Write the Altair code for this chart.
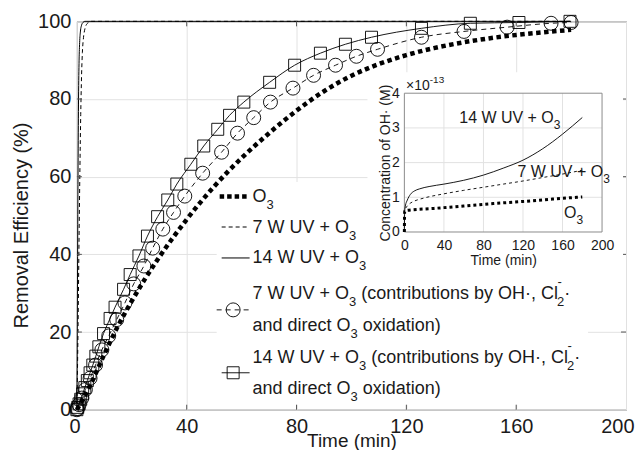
import altair as alt
import pandas as pd

# ---------------- values ----------------
# main panel: time (min) vs removal efficiency (%)
o3_t = [0, 5, 10, 15, 20, 25, 30, 35, 40, 45, 50, 55, 60, 65, 70, 75, 80, 90, 100, 110, 120, 130, 140, 150, 160, 170, 180]
o3_e = [0, 6.5, 14.3, 21.6, 28.0, 33.9, 39.3, 44.3, 49.0, 53.4, 57.5, 61.3, 64.8, 68.1, 71.2, 74.2, 77.0, 82.0, 86.0, 89.0, 91.3, 93.1, 94.5, 95.6, 96.5, 97.2, 97.8]

uv7_t = [0, 0.4, 0.8, 1.1, 1.4, 1.7, 2.0, 2.4, 2.9, 3.5, 4.3, 5.2, 180]
uv7_e = [0, 20, 45, 62, 76, 86, 92, 95.8, 98, 99.2, 99.7, 100, 100]

uv14_t = [0, 0.15, 0.3, 0.45, 0.6, 0.8, 1.0, 1.3, 1.7, 2.2, 2.9, 180]
uv14_e = [0, 22, 45, 65, 80, 90, 94.5, 97.5, 99, 99.7, 100, 100]

c7_t = [0, 0.2, 0.8, 1.8, 3.1, 4.8, 6.8, 9.1, 11.6, 14.5, 17.5, 20.7, 24.4, 27.6, 31.3, 35.2, 39.3, 45.8,
        52.7, 58.5, 64.4, 70.5, 78.7, 86.2, 94.2, 101.8, 109.5, 125.5, 141.0, 156.7, 172.7, 180.0]
c7_e = [0, 0.3, 1.3, 3.0, 5.2, 8.1, 11.5, 15.4, 19.0, 23.2, 27.5, 32.4, 37.0, 41.6, 46.5, 50.8, 55.0, 60.9,
        66.3, 71.2, 75.2, 79.2, 82.8, 86.1, 88.7, 91.0, 92.8, 95.9, 97.4, 98.5, 99.5, 99.7]

s14_t = [0, 0.3, 0.8, 1.4, 2.1, 2.9, 3.8, 4.8, 5.8, 6.9, 8.0, 9.7, 12.1, 13.9, 17.0, 19.4, 22.6, 25.7, 29.4,
         33.1, 36.4, 41.5, 46.2, 51.3, 55.6, 60.8, 70.2, 79.3, 88.7, 97.8, 107.3, 125.5, 143.3, 161.0, 179.6]
s14_e = [0, 0.6, 1.5, 2.7, 4.1, 5.7, 7.5, 9.5, 11.5, 13.8, 16.2, 19.6, 23.5, 26.4, 31.0, 34.8, 39.6, 44.7, 49.7,
         54.0, 58.1, 63.2, 67.9, 72.2, 75.8, 79.2, 84.3, 88.7, 91.8, 94.1, 95.9, 98.2, 99.5, 99.7, 100.0]

# inset: time (min) vs OH concentration (x 1e-13 M)
oh_o3_t = [0, 0.3, 2, 30, 60, 90, 120, 150, 180]
oh_o3_c = [0, 0.6, 0.62, 0.68, 0.75, 0.82, 0.88, 0.95, 1.01]
oh7_t = [0, 0.3, 1, 3, 6, 10, 20, 40, 60, 80, 100, 120, 140, 160, 180]
oh7_c = [0, 0.58, 0.66, 0.75, 0.83, 0.89, 0.98, 1.1, 1.2, 1.29, 1.38, 1.47, 1.57, 1.67, 1.78]
oh14_t = [0, 0.3, 1, 3, 6, 10, 15, 25, 40, 60, 80, 100, 120, 140, 160, 180]
oh14_c = [0, 0.58, 0.75, 0.92, 1.08, 1.18, 1.24, 1.31, 1.38, 1.49, 1.64, 1.84, 2.07, 2.4, 2.82, 3.3]

x_ticks = [0, 40, 80, 120, 160, 200]
y_ticks = [0, 20, 40, 60, 80, 100]
ix_ticks = [0, 40, 80, 120, 160, 200]
iy_ticks = [0, 1, 2, 3, 4]

# ---------------- layout / style ----------------
FONT = "Liberation Sans"
TXT = "#1a1a1a"
GRID = "#e2e2e2"
FRAME = "#555555"
IFRAME = "#8c8c8c"
X0, Y0 = 77, 21          # page position of the plot area
W, H = 550, 389


def rx(x):
    return x - X0


def ry(y):
    return y - Y0


one = pd.DataFrame({"k": [0]})

# Arial / Liberation Sans advance widths (1/1000 em)
AW = {' ': 278, '(': 333, ')': 333, '+': 584, ',': 278, '-': 333, '·': 278, '×': 584,
      'C': 722, 'H': 722, 'O': 778, 'U': 722, 'V': 667, 'W': 944,
      'a': 556, 'b': 556, 'c': 500, 'd': 556, 'e': 556, 'i': 222, 'l': 222, 'n': 556,
      'o': 556, 'r': 333, 's': 500, 't': 278, 'u': 556, 'x': 500, 'y': 500}
for d in "0123456789":
    AW[d] = 556


def tw(s, size):
    return sum(AW.get(c, 556) for c in s) * size / 1000.0


def text_mark(t, x, y, size):
    return alt.Chart(one).mark_text(align="left", baseline="alphabetic", font=FONT,
                                    fontSize=size, color=TXT).encode(
        x=alt.value(rx(x)), y=alt.value(ry(y)), text=alt.value(t))


def rich(segs, x, y, size, sub_size, sub_dy, sup_dy):
    out = []
    for kind, txt in segs:
        if kind == "n":
            stripped = txt.lstrip(" ")
            x += (len(txt) - len(stripped)) * AW[' '] * size / 1000.0
            out.append(text_mark(stripped, x, y, size))
            x += tw(stripped, size)
        elif kind == "sub":
            out.append(text_mark(txt, x, y + sub_dy, sub_size))
            x += tw(txt, sub_size)
        else:  # stacked sub / sup
            sub, sup = txt
            out.append(text_mark(sub, x, y + sub_dy, sub_size))
            out.append(text_mark(sup, x + 0.5, y + sup_dy, sub_size))
            x += max(tw(sub, sub_size), tw(sup, sub_size))
    return out


# ---------------- main panel ----------------
mx_scale = alt.Scale(domain=[0, 200], nice=False, zero=False)
my_scale = alt.Scale(domain=[0, 100], nice=False, zero=False)
mx_axis = alt.Axis(values=x_ticks, title="Time (min)", grid=True, gridColor=GRID, ticks=False, tickSize=0,
                   domain=False, labelFont=FONT, labelFontSize=20, labelColor=TXT, labelPadding=23,
                   labelBaseline="alphabetic", labelFlush=True, labelFlushOffset=8, labelOverlap=False,
                   titleFont=FONT, titleFontSize=19, titleFontWeight="normal", titleColor=TXT,
                   titleX=W / 2, titleY=37, titleAlign="center", titleBaseline="alphabetic")
my_axis = alt.Axis(values=y_ticks, title="Removal Efficiency (%)", grid=True, gridColor=GRID, ticks=False,
                   tickSize=0, domain=False, labelFont=FONT, labelFontSize=20, labelColor=TXT, labelPadding=6,
                   labelBaseline="middle", labelFlush=False, labelOverlap=False,
                   titleFont=FONT, titleFontSize=20, titleFontWeight="normal", titleColor=TXT,
                   titleX=-49.5, titleY=204, titleAngle=270, titleAlign="center", titleBaseline="alphabetic")


def MX(f):
    return alt.X(f, type="quantitative", scale=mx_scale, axis=mx_axis)


def MY(f):
    return alt.Y(f, type="quantitative", scale=my_scale, axis=my_axis)


def series(t, v):
    return pd.DataFrame({"t": t, "v": v})


def mline(df, width, dash=None):
    kw = dict(color="black", strokeWidth=width, interpolate="monotone", strokeCap="butt")
    if dash is not None:
        kw["strokeDash"] = dash
    return alt.Chart(df).mark_line(**kw).encode(x=MX("t"), y=MY("v"))


main_layers = []
# legend background (white box without border)
main_layers.append(alt.Chart(one).mark_rect(fill="white", stroke=None).encode(
    x=alt.value(rx(217)), x2=alt.value(rx(589)), y=alt.value(ry(182)), y2=alt.value(ry(405))))

main_layers.append(mline(series(o3_t, o3_e), 4.5, [4.5, 3.5]))
main_layers.append(mline(series(uv7_t, uv7_e), 1, [4, 3]))
main_layers.append(mline(series(uv14_t, uv14_e), 1))
main_layers.append(mline(series(c7_t, c7_e), 0.9, [5, 4]))
main_layers.append(alt.Chart(series(c7_t, c7_e)).mark_point(
    shape="circle", filled=False, size=196, color="black", strokeWidth=0.9, opacity=1).encode(x=MX("t"), y=MY("v")))
main_layers.append(mline(series(s14_t, s14_e), 0.9))
main_layers.append(alt.Chart(series(s14_t, s14_e)).mark_point(
    shape="square", filled=False, size=144, color="black", strokeWidth=0.9, opacity=1).encode(x=MX("t"), y=MY("v")))

# inward ticks on all four sides
tx = pd.DataFrame({"t": x_ticks[1:-1]})
ty = pd.DataFrame({"v": y_ticks[1:-1]})
main_layers.append(alt.Chart(tx).mark_rule(color=FRAME, strokeWidth=1).encode(
    x=MX("t"), y=alt.value(H), y2=alt.value(H - 5)))
main_layers.append(alt.Chart(tx).mark_rule(color=FRAME, strokeWidth=1).encode(
    x=MX("t"), y=alt.value(0), y2=alt.value(5)))
main_layers.append(alt.Chart(ty).mark_rule(color=FRAME, strokeWidth=1).encode(
    y=MY("v"), x=alt.value(0), x2=alt.value(5)))
main_layers.append(alt.Chart(ty).mark_rule(color=FRAME, strokeWidth=1).encode(
    y=MY("v"), x=alt.value(W), x2=alt.value(W - 5)))


# legend samples
def lrule(x1, x2, y, width, dash=None):
    kw = dict(color="black", strokeWidth=width, strokeCap="butt")
    if dash is not None:
        kw["strokeDash"] = dash
    return alt.Chart(one).mark_rule(**kw).encode(
        x=alt.value(rx(x1)), x2=alt.value(rx(x2)), y=alt.value(ry(y)))


main_layers.append(lrule(220, 250, 196.5, 4.5, [4.5, 3]))
main_layers.append(lrule(222, 250, 227, 1, [4, 3]))
main_layers.append(lrule(222, 250, 258, 1))
main_layers.append(lrule(217, 250, 310, 0.9, [5, 4]))
main_layers.append(alt.Chart(one).mark_point(shape="circle", filled=False, size=196, color="black",
                                             strokeWidth=0.9, opacity=1).encode(
    x=alt.value(rx(233.5)), y=alt.value(ry(310))))
main_layers.append(lrule(222, 250, 373, 0.9))
main_layers.append(alt.Chart(one).mark_point(shape="square", filled=False, size=144, color="black",
                                             strokeWidth=0.9, opacity=1).encode(
    x=alt.value(rx(233.5)), y=alt.value(ry(373))))

LS, LSS, LDY, LUP = 18, 13, 7, -13
LX = 253
legend_rows = [
    ([("n", "O"), ("sub", "3")], 202),
    ([("n", "7 W UV + O"), ("sub", "3")], 232.7),
    ([("n", "14 W UV + O"), ("sub", "3")], 263.3),
    ([("n", "7 W UV + O"), ("sub", "3"), ("n", " (contributions by OH·, Cl"), ("stack", ("2", "-")), ("n", "·")], 299),
    ([("n", "and direct O"), ("sub", "3"), ("n", " oxidation)")], 331),
    ([("n", "14 W UV + O"), ("sub", "3"), ("n", " (contributions by OH·, Cl"), ("stack", ("2", "-")), ("n", "·")], 363.5),
    ([("n", "and direct O"), ("sub", "3"), ("n", " oxidation)")], 394),
]
for segs, base in legend_rows:
    main_layers += rich(segs, LX, base, LS, LSS, LDY, LUP)

main = alt.layer(*main_layers)

# ---------------- inset ----------------
IL, IR, IT, IB = 405, 603, 93, 232
ix_scale = alt.Scale(domain=[0, 200], range=[rx(IL), rx(IR)], nice=False, zero=False)
iy_scale = alt.Scale(domain=[0, 4], range=[ry(IB), ry(IT)], nice=False, zero=False)
ix_axis = alt.Axis(values=ix_ticks, orient="bottom", offset=-(H - ry(IB)), grid=False, ticks=False, tickSize=0,
                   domain=False, zindex=2, labelFont=FONT, labelFontSize=14, labelColor=TXT, labelPadding=18,
                   labelBaseline="alphabetic", labelFlush=False, labelOverlap=False,
                   title="Time (min)", titleFont=FONT, titleFontSize=14, titleFontWeight="normal",
                   titleColor=TXT, titleX=(rx(IL) + rx(IR)) / 2, titleY=33, titleAlign="center",
                   titleBaseline="alphabetic")
iy_axis = alt.Axis(values=iy_ticks, orient="left", offset=-rx(IL), grid=False, ticks=False, tickSize=0,
                   domain=False, zindex=2, labelFont=FONT, labelFontSize=14, labelColor=TXT, labelPadding=5,
                   labelBaseline="middle", labelFlush=False, labelOverlap=False,
                   title="Concentration of OH· (M)", titleFont=FONT, titleFontSize=14, titleFontWeight="normal",
                   titleColor=TXT, titleX=-15, titleY=(ry(IT) + ry(IB)) / 2, titleAngle=270,
                   titleAlign="center", titleBaseline="alphabetic")


def IX(f):
    return alt.X(f, type="quantitative", scale=ix_scale, axis=ix_axis)


def IY(f):
    return alt.Y(f, type="quantitative", scale=iy_scale, axis=iy_axis)


inset_layers = []
inset_layers.append(alt.Chart(one).mark_rect(fill="white", stroke=None).encode(
    x=alt.value(rx(368)), x2=alt.value(rx(624)), y=alt.value(ry(72)), y2=alt.value(ry(268))))

gx = pd.DataFrame({"t": ix_ticks[1:-1], "c0": [iy_ticks[0]] * 4, "c1": [iy_ticks[-1]] * 4})
gy = pd.DataFrame({"c": iy_ticks[1:-1], "t0": [ix_ticks[0]] * 3, "t1": [ix_ticks[-1]] * 3})
inset_layers.append(alt.Chart(gx).mark_rule(color=GRID, strokeWidth=1).encode(x=IX("t"), y=IY("c0"), y2="c1:Q"))
inset_layers.append(alt.Chart(gy).mark_rule(color=GRID, strokeWidth=1).encode(y=IY("c"), x=IX("t0"), x2="t1:Q"))
box = pd.DataFrame({"t0": [ix_ticks[0]], "t1": [ix_ticks[-1]], "c0": [iy_ticks[0]], "c1": [iy_ticks[-1]]})
inset_layers.append(alt.Chart(box).mark_rect(fillOpacity=0, stroke=IFRAME, strokeWidth=1).encode(
    x=IX("t0"), x2="t1:Q", y=IY("c0"), y2="c1:Q"))


def iline(t, c, width, dash=None):
    kw = dict(color="black", strokeWidth=width, interpolate="monotone", strokeCap="butt")
    if dash is not None:
        kw["strokeDash"] = dash
    return alt.Chart(pd.DataFrame({"t": t, "c": c})).mark_line(**kw).encode(x=IX("t"), y=IY("c"))


inset_layers.append(iline(oh7_t, oh7_c, 0.9, [3, 3]))
inset_layers.append(iline(oh14_t, oh14_c, 0.9))
inset_layers.append(iline(oh_o3_t, oh_o3_c, 3, [3, 3]))

inset_layers += rich([("n", "14 W UV + O"), ("sub", "3")], 460, 123.3, 16, 12, 6, -11)
inset_layers += rich([("n", "7 W UV + O"), ("sub", "3")], 518.3, 176.7, 16, 12, 6, -11)
inset_layers += rich([("n", "O"), ("sub", "3")], 565, 218.3, 16, 12, 6, -11)
inset_layers.append(text_mark("×10", 406.7, 90, 14))
inset_layers.append(text_mark("-13", 406.7 + tw("×10", 14), 83, 10))

inset = alt.layer(*inset_layers)

chart = alt.layer(main, inset).resolve_scale(x="independent", y="independent").properties(
    width=W, height=H,
    padding={"left": X0 - 8, "top": Y0 - 8, "right": 10, "bottom": 40},
    autosize=alt.AutoSizeParams(type="none"),
).configure(font=FONT).configure_view(stroke=FRAME, strokeWidth=1)

chart.save("out.html", embed_options={"renderer": "svg", "actions": False})
